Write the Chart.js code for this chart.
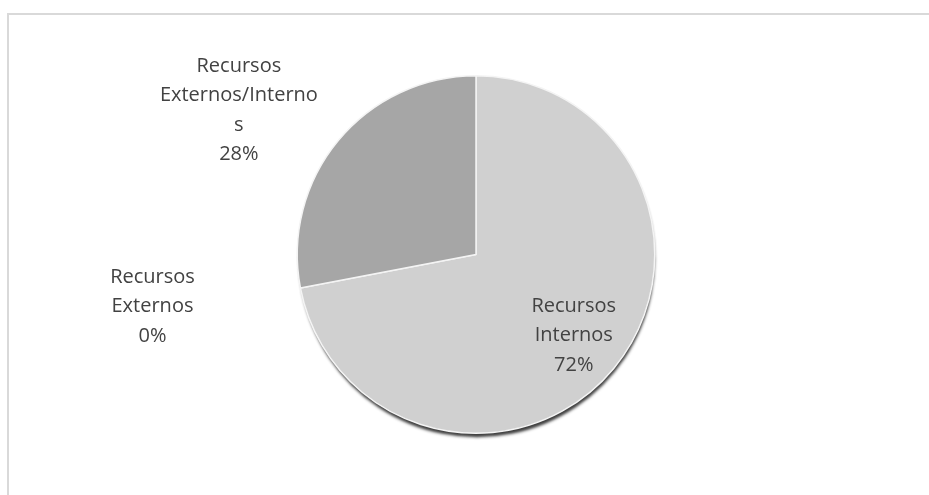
<!DOCTYPE html>
<html>
<head>
<meta charset="utf-8">
<script src="https://cdn.jsdelivr.net/npm/chart.js@4"></script>
<style>
  html, body { margin: 0; padding: 0; background: #fff; overflow: hidden; }
  .frame {
    position: absolute; left: 7px; top: 13px; width: 940px; height: 500px;
    border-top: 2px solid #d9d9d9; border-left: 2px solid #d9d9d9;
  }
  #pie { position: absolute; left: 0; top: 0; }
</style>
</head>
<body>
<div class="frame"></div>
<canvas id="pie" width="929" height="495"></canvas>
<script>
// datos
const categories = ['Recursos Internos', 'Recursos Externos', 'Recursos Externos/Internos'];
const values = [72, 0, 28];
// como se parte cada etiqueta en líneas
const labelLines = [
  ['Recursos', 'Internos'],
  ['Recursos', 'Externos'],
  ['Recursos', 'Externos/Interno', 's']
];
const colors = ['#d0d0d0', '#bdbdbd', '#a6a6a6'];

// sombra bajo el círculo
const pieShadow = {
  id: 'pieShadow',
  beforeDatasetsDraw(chart) {
    const arc = chart.getDatasetMeta(0).data[0];
    if (!arc) return;
    const { x, y, outerRadius } = arc.getProps(['x', 'y', 'outerRadius'], true);
    const ctx = chart.ctx;
    ctx.save();
    ctx.shadowColor = 'rgba(40,40,40,0.9)';
    ctx.shadowBlur = 3;
    ctx.shadowOffsetY = 5;
    ctx.shadowOffsetX = 1;
    ctx.beginPath();
    ctx.arc(x, y, outerRadius - 1, 0, Math.PI * 2);
    ctx.fillStyle = '#cfcfcf';
    ctx.fill();
    ctx.restore();
  }
};

// etiquetas de cada sector (nombre + porcentaje)
const sliceLabels = {
  id: 'sliceLabels',
  afterDatasetsDraw(chart, args, opts) {
    const ctx = chart.ctx;
    const total = values.reduce((a, b) => a + b, 0);
    chart.getDatasetMeta(0).data.forEach((arc, i) => {
      const p = arc.getProps(['x', 'y', 'startAngle', 'endAngle', 'outerRadius'], true);
      const mid = (p.startAngle + p.endAngle) / 2;
      const k = opts.distance[i];
      const px = p.x + Math.cos(mid) * p.outerRadius * k;
      let py = p.y + Math.sin(mid) * p.outerRadius * k;
      const lines = labelLines[i].concat(Math.round(values[i] / total * 100) + '%');
      ctx.save();
      ctx.font = opts.font;
      ctx.fillStyle = opts.color;
      ctx.textAlign = 'center';
      ctx.textBaseline = 'middle';
      const w = Math.max(...lines.map(l => ctx.measureText(l).width));
      let cx = px;
      if (k > 1) {
        // fuera del círculo: la etiqueta se aparta hacia fuera
        cx = px + Math.sign(Math.cos(mid)) * w * opts.shift;
        py -= 3;
      }
      lines.forEach((l, j) => {
        ctx.fillText(l, cx, py + (j - (lines.length - 1) / 2) * opts.lineHeight);
      });
      ctx.restore();
    });
  }
};

new Chart(document.getElementById('pie'), {
  type: 'pie',
  data: {
    labels: categories,
    datasets: [{
      data: values,
      backgroundColor: colors,
      borderColor: '#f4f4f4',
      borderWidth: 1.5
    }]
  },
  options: {
    responsive: false,
    animation: false,
    layout: { padding: { top: 75, bottom: 61, left: 23, right: 0 } },
    plugins: {
      legend: { display: false },
      tooltip: { enabled: false },
      sliceLabels: {
        distance: [0.71, 1.64, 1.24],
        shift: 0.42,
        font: '20px "Open Sans"',
        color: '#424242',
        lineHeight: 29.5
      }
    }
  },
  plugins: [pieShadow, sliceLabels]
});
</script>
</body>
</html>
